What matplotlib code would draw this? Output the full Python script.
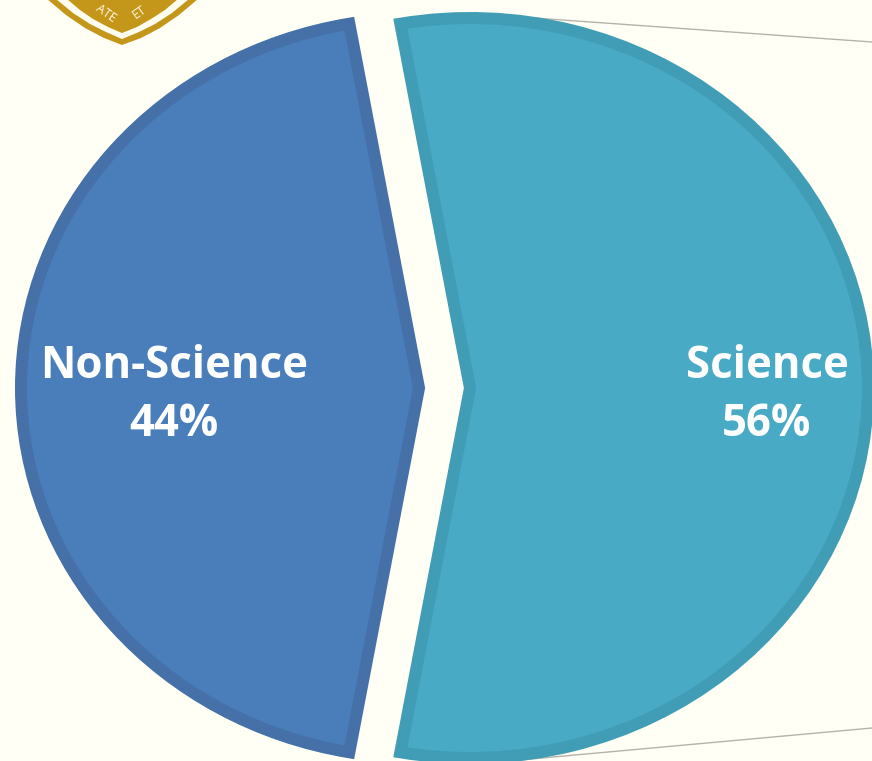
import matplotlib
matplotlib.use('Agg')
import matplotlib.pyplot as plt
from matplotlib.patches import Polygon

categories = ['Non-Science', 'Science']
pct_labels = ['44%', '56%']
shares = [44.4, 55.6]
fill_colors = ['#4A7EBB', '#48AAC4']
edge_colors = ['#4570A8', '#419DB5']
background = '#FFFFF5'
gold = '#C4961A'

W, H = 872, 761
# pie is stretched wider than tall in the picture
cx, cy = 444.5, 388
rx, ry = 398, 370
gap = 25.5

fig = plt.figure(figsize=(W / 100, H / 100), dpi=100, facecolor=background)

# overlay in pixel coords for the things that are not data
deco = fig.add_axes([0, 0, 1, 1], zorder=1)
deco.set_xlim(0, W)
deco.set_ylim(H, 0)
deco.axis('off')

deco.plot([520, 872], [17, 42], color='#B5B2AC', lw=1)
deco.plot([520, 872], [760, 728], color='#B5B2AC', lw=1)

# bottom of the crest, cut off by the top of the image
outer = [(47, -1), (66, 15), (85, 28), (104, 38), (122, 45), (141, 38), (160, 28), (179, 15), (198, -1)]
white = [(56, -1), (73, 13), (90, 24), (106, 32), (122, 39), (139, 32), (155, 24), (172, 13), (189, -1)]
inner = [(67, -1), (80, 10), (93, 19), (108, 27), (122, 33), (137, 27), (151, 19), (165, 10), (178, -1)]
deco.add_patch(Polygon(outer, color=gold, lw=0))
deco.add_patch(Polygon(white, color='#FFFDF0', lw=0))
deco.add_patch(Polygon(inner, color=gold, lw=0))
for s, x, y, rot in [('ATE', 106, 13, -35), ('ET', 139, 12, 35)]:
    deco.text(x, y, s, color='#FFF8E0', fontsize=9, family='Open Sans',
              ha='center', va='center', rotation=rot)

ax = fig.add_axes([0, 0, 1, 1], zorder=2)
ax.patch.set_alpha(0)
wedges, _ = ax.pie(shares, explode=[gap / rx, gap / rx], startangle=180 - shares[0] / 100 * 180,
                   colors=fill_colors,
                   wedgeprops=dict(linewidth=12 * 0.72, joinstyle='miter'))
for w, c in zip(wedges, edge_colors):
    w.set_edgecolor(c)
ax.set_aspect('auto')
ax.set_xlim((0 - cx) / rx, (W - cx) / rx)
ax.set_ylim((cy - H) / ry, cy / ry)

# labels on top
top = fig.add_axes([0, 0, 1, 1], zorder=3)
top.set_xlim(0, W)
top.set_ylim(H, 0)
top.axis('off')
for name, pct, x in zip(categories, pct_labels, [174, 767]):
    top.text(x, 366, name, color='white', fontsize=31.5, fontweight='bold',
             family='Open Sans', ha='center', va='center')
    top.text(x, 424, pct, color='white', fontsize=31.5, fontweight='bold',
             family='Open Sans', ha='center', va='center')

fig.savefig('out.png', dpi=100, facecolor=background)
